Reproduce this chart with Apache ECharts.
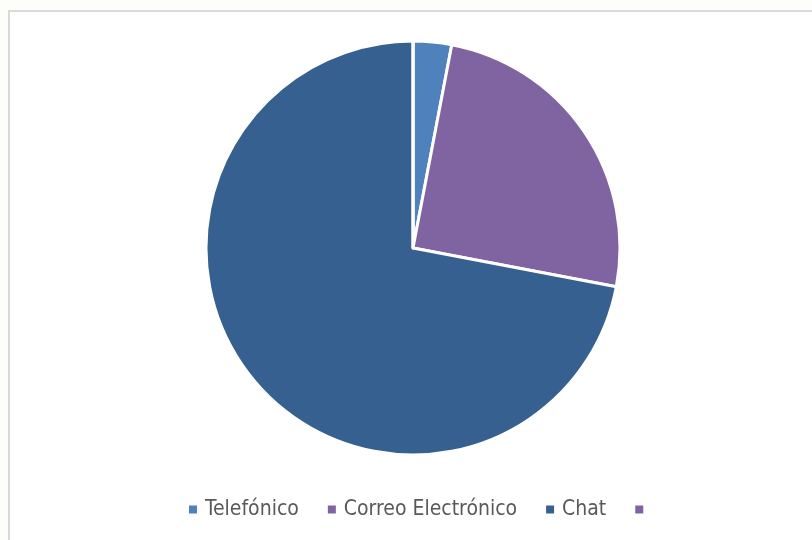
<!DOCTYPE html>
<html>
<head>
<meta charset="utf-8">
<script src="https://cdn.jsdelivr.net/npm/echarts@6/dist/echarts.min.js"></script>
<style>
  html, body { margin: 0; padding: 0; background: #fdfdf9; }
  #main { width: 812px; height: 540px; }
</style>
</head>
<body>
<div id="main"></div>
<script>
// datos del gráfico
var categories = ['Telefónico', 'Correo Electrónico', 'Chat', ' '];
var values = [3, 25, 72, 0];
var colors = ['#4f81bd', '#8064a2', '#35608f', '#8064a2'];

var myChart = echarts.init(document.getElementById('main'));

var pieData = categories.map(function (name, i) {
    return { name: name, value: values[i], itemStyle: { color: colors[i] } };
});

option = {
    backgroundColor: 'transparent',
    animation: false,
    graphic: [{
        type: 'rect',
        shape: { x: 9, y: 11, width: 820, height: 540 },
        style: { fill: '#ffffff', stroke: '#d9d9d9', lineWidth: 2 },
        z: -10
    }],
    legend: {
        bottom: 15,
        left: 182,
        icon: 'rect',
        itemWidth: 10,
        itemHeight: 10,
        itemGap: 27,
        selectedMode: false,
        textStyle: {
            fontFamily: 'DejaVu Sans Condensed',
            fontSize: 21,
            color: '#595959',
            padding: [0, 0, 0, 2]
        },
        data: categories
    },
    series: [{
        type: 'pie',
        center: [413, 248],
        radius: 207,
        startAngle: 90,
        clockwise: true,
        label: { show: false },
        labelLine: { show: false },
        itemStyle: { borderColor: '#ffffff', borderWidth: 3 },
        emphasis: { disabled: true },
        data: pieData
    }]
};

myChart.setOption(option);
</script>
</body>
</html>
